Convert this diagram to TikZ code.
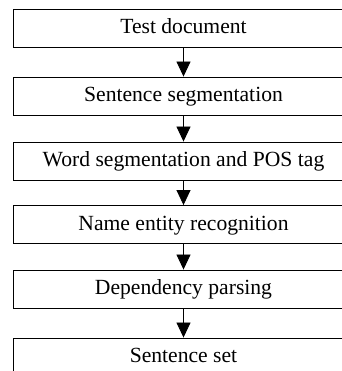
\documentclass[tikz,border=0pt]{standalone}
\usepackage{fontspec}
\setmainfont{Liberation Serif}
\usetikzlibrary{arrows.meta}

\tikzset{
  stage/.style={draw, line width=0.9bp, minimum width=340bp, minimum height=38bp,
    inner sep=0pt, text height=15bp, text depth=4bp,
    font=\fontsize{21.7}{26}\selectfont},
  flow/.style={line width=0.8bp, -{Triangle[length=15bp,width=14bp]}}
}

\begin{document}
\begin{tikzpicture}[x=1bp,y=-1bp]
		\useasboundingbox (0,0) rectangle (342,371);
		\clip (0,0) rectangle (342,371);
		% processing steps, top to bottom
		\node[stage] (doc) at (183.5,28) {Test document};
		\node[stage] (sentseg) at (183.5,96) {Sentence segmentation};
		\node[stage] (wordseg) at (183.5,161) {Word segmentation and POS tag};
		\node[stage] (ner) at (183.5,224.5) {Name entity recognition};
		\node[stage] (parse) at (183.5,289) {Dependency parsing};
		\node[stage] (sentset) at (183.5,357) {Sentence set};
		% arrows between the steps
		\draw[flow] (doc) -- (sentseg);
		\draw[flow] (sentseg) -- (wordseg);
		\draw[flow] (wordseg) -- (ner);
		\draw[flow] (ner) -- (parse);
		\draw[flow] (parse) -- (sentset);
\end{tikzpicture}
\end{document}
